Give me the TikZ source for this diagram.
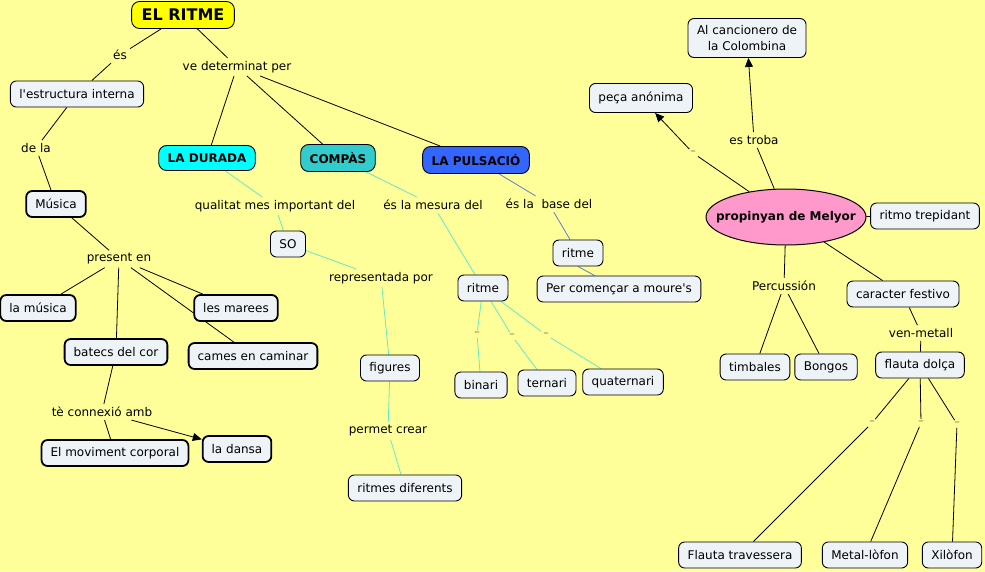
\documentclass[tikz,border=0pt]{standalone}
\usepackage{fontspec}
\setmainfont{DejaVu Sans}
\usetikzlibrary{shapes.geometric,arrows.meta}
\definecolor{fons}{RGB}{255,255,153}
\definecolor{caixa}{RGB}{238,243,248}
\definecolor{groc}{RGB}{255,255,0}
\definecolor{cian}{RGB}{0,255,255}
\definecolor{turquesa}{RGB}{51,204,204}
\definecolor{blau}{RGB}{51,102,255}
\definecolor{rosa}{RGB}{255,153,204}
\definecolor{verdaigua}{RGB}{100,232,205}
\definecolor{blaulinia}{RGB}{95,125,205}
\definecolor{guiocolor}{RGB}{125,115,75}
\pgfdeclarelayer{fonslayer}
\pgfdeclarelayer{linies}
\pgfsetlayers{fonslayer,linies,main}
\begin{document}
\begin{tikzpicture}[x=1pt, y=-1pt, line join=round, line cap=round, >={Triangle[length=9pt,width=8pt]}]
	\tikzset{concepte/.style={draw, fill=caixa, rounded corners=6pt, line width=0.9pt, inner xsep=9pt, minimum height=26pt, font=\fontsize{12}{14}\selectfont},
	gruixut/.style={concepte, line width=1.8pt},
	titol/.style={concepte, rounded corners=8pt, minimum height=27pt, font=\fontsize{12}{14}\selectfont\bfseries},
	enllac/.style={inner sep=3pt, font=\fontsize{12}{14}\selectfont},
	guio/.style={inner sep=2pt, text=guiocolor, font=\fontsize{11}{11}\selectfont},
	linia/.style={line width=0.8pt}}
	\useasboundingbox (0,0) rectangle (985,571);
	\begin{pgfonlayer}{fonslayer}
	\fill[fons] (0,0) rectangle (985,571);
	\end{pgfonlayer}
	\node[titol, fill=groc, inner xsep=10pt, font=\fontsize{16}{18}\selectfont\bfseries] (ritme) at (183,15) {EL RITME};
	\node[enllac] (es) at (120,55) {és};
	\node[enllac] (vedet) at (237,67) {ve determinat per};
	\node[concepte] (estructura) at (77,94) {l\textquotesingle estructura interna};
	\node[enllac] (dela) at (36,148) {de la};
	\node[gruixut] (musica) at (56,204) {Música};
	\node[enllac] (present) at (119,259) {present en};
	\node[gruixut] (lamusica) at (38,308) {la música};
	\node[gruixut] (marees) at (236,308) {les marees};
	\node[gruixut] (batecs) at (116,352) {batecs del cor};
	\node[gruixut] (cames) at (253,356) {cames en caminar};
	\node[enllac] (connexio) at (102,412) {tè connexió amb};
	\node[gruixut] (moviment) at (115,453) {El moviment corporal};
	\node[gruixut] (dansa) at (237,449) {la dansa};
	\node[titol, fill=cian, minimum height=25pt] (durada) at (207,158) {LA DURADA};
	\node[titol, fill=turquesa] (compas) at (338,158) {COMPÀS};
	\node[titol, fill=blau] (pulsacio) at (476,160) {LA PULSACIÓ};
	\node[enllac] (qualitat) at (275,206) {qualitat mes important del};
	\node[concepte] (so) at (288,244) {SO};
	\node[enllac] (representada) at (381,278) {representada por};
	\node[concepte] (figures) at (390,368) {figures};
	\node[enllac] (permet) at (388,431) {permet crear};
	\node[concepte] (diferents) at (405,488) {ritmes diferents};
	\node[enllac] (mesura) at (433,205) {és la mesura del};
	\node[concepte] (ritmeA) at (483,288) {ritme};
	\node[guio] (gA) at (477,334) {–};
	\node[guio] (gB) at (512,336) {–};
	\node[guio] (gC) at (546,335) {–};
	\node[concepte] (binari) at (481,385) {binari};
	\node[concepte] (ternari) at (547,383) {ternari};
	\node[concepte] (quaternari) at (623,382) {quaternari};
	\node[enllac] (base) at (549,204) {és la\ \ base del};
	\node[concepte] (ritmeB) at (578,253) {ritme};
	\node[concepte] (moure) at (619,289) {Per començar a moure\textquotesingle s};
	\node[concepte, align=center, font=\fontsize{12}{15.5}\selectfont, minimum height=39pt] (cancionero) at (747,38) {Al cancionero de\\la Colombina};
	\node[concepte, minimum height=29pt] (peca) at (641,98) {peça anónima};
	\node[enllac] (troba) at (754,140) {es troba};
	\node[guio] (gD) at (693,153) {–};
	\node[ellipse, draw, fill=rosa, line width=1pt, minimum width=160pt, minimum height=56pt] (melyor) at (786,217) {};
	\node[font=\fontsize{12}{14}\selectfont\bfseries] at (melyor) {propinyan de Melyor};
	\node[concepte] (trepidant) at (925,216) {ritmo trepidant};
	\node[enllac] (percussio) at (784,286) {Percussión};
	\node[concepte] (timbales) at (755,367) {timbales};
	\node[concepte] (bongos) at (826,367) {Bongos};
	\node[concepte] (festivo) at (903,294) {caracter festivo};
	\node[enllac] (venmetall) at (921,333) {ven-metall};
	\node[concepte] (flauta) at (920,365) {flauta dolça};
	\node[guio] (gE) at (872,423) {–};
	\node[guio] (gF) at (921,423) {–};
	\node[guio] (gG) at (957,424) {–};
	\node[concepte] (travessera) at (740,555) {Flauta travessera};
	\node[concepte] (metall) at (865,555) {Metal-lòfon};
	\node[concepte] (xilofon) at (952,555) {Xilòfon};
	\begin{pgfonlayer}{linies}
	\draw[linia] (ritme)--(es) (es)--(estructura) (ritme)--(vedet) (vedet)--(durada) (vedet)--(compas) (vedet)--(pulsacio);
	\draw[linia] (estructura)--(dela) (dela)--(musica) (musica)--(present) (present)--(lamusica) (present)--(batecs) (present)--(marees) (present)--(cames);
	\draw[linia] (batecs)--(connexio) (connexio)--(moviment);
	\draw[linia,->] (connexio)--(dansa);
	\draw[linia,verdaigua] (durada)--(qualitat) (qualitat)--(so) (so)--(representada) (representada)--(figures) (figures)--(permet) (permet)--(diferents);
	\draw[linia,verdaigua] (compas)--(mesura) (mesura)--(ritmeA) (ritmeA)--(gA) (gA)--(binari) (ritmeA)--(gB) (gB)--(ternari) (ritmeA)--(gC) (gC)--(quaternari);
	\draw[linia,blaulinia] (pulsacio)--(base) (base)--(ritmeB) (ritmeB.south)--(moure);
	\draw[linia] (melyor)--(gD) (melyor)--(troba) (melyor)--(trepidant) (melyor)--(percussio) (percussio)--(timbales) (percussio)--(bongos);
	\draw[linia,->] (gD)--(peca);
	\draw[linia,->] (troba)--(cancionero);
	\draw[linia] (melyor)--(festivo) (festivo)--(venmetall) (venmetall)--(flauta) (flauta)--(gE) (gE)--(travessera) (flauta)--(gF) (gF)--(metall) (flauta)--(gG) (gG)--(xilofon);
	\end{pgfonlayer}
\end{tikzpicture}
\end{document}
